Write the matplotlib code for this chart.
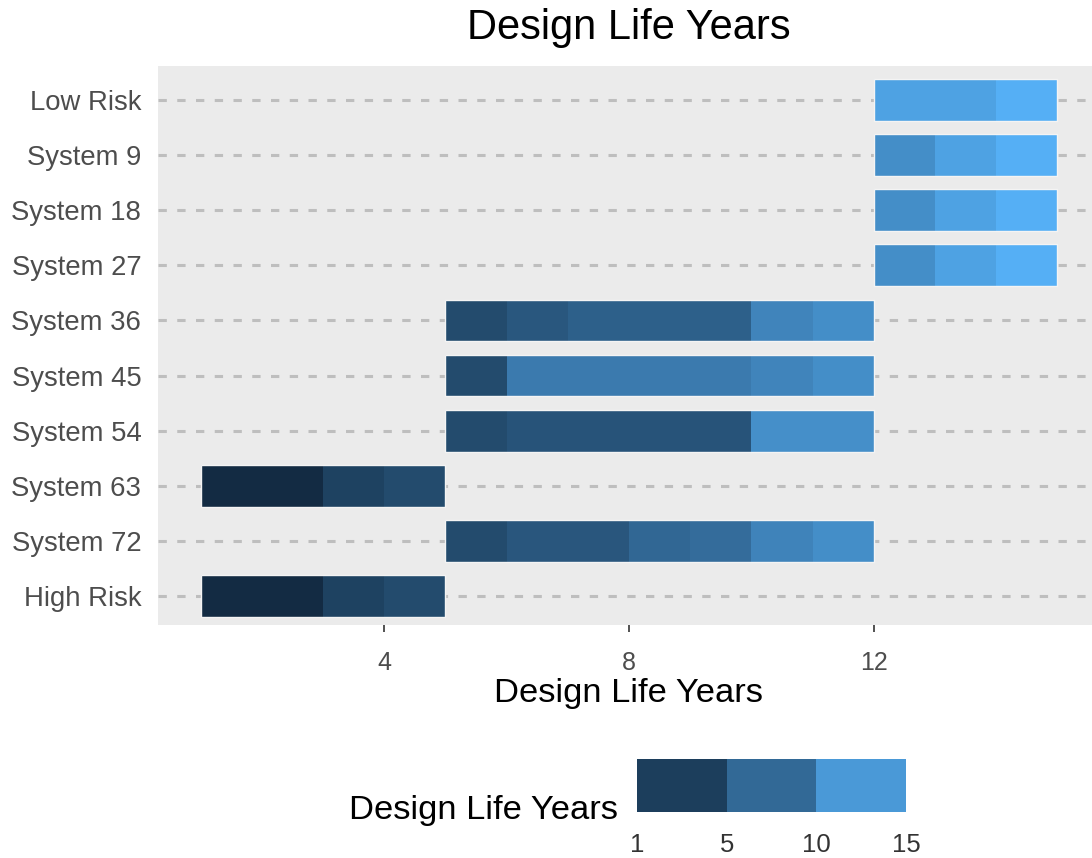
import numpy as np
import matplotlib
matplotlib.use("Agg")
import matplotlib.pyplot as plt
from matplotlib.colors import LinearSegmentedColormap, Normalize
from matplotlib.patches import Rectangle

plt.rcParams['font.family'] = ['Liberation Sans', 'DejaVu Sans']
plt.rcParams['lines.scale_dashes'] = False

# categories bottom -> top
categories = ["High Risk", "System 72", "System 63", "System 54", "System 45",
              "System 36", "System 27", "System 18", "System 9", "Low Risk"]
# first year of each bar, then one value per 1-year tile
bar_start = [1, 5, 1, 5, 5, 5, 12, 12, 12, 12]
tile_values = [
    [1, 1, 3.4, 4.3],
    [4.3, 5.5, 5.5, 7.3, 7.8, 10.2, 11.3],
    [1, 1, 3.4, 4.3],
    [4.3, 5.2, 5.2, 5.2, 5.2, 11.4, 11.4],
    [4.3, 9.3, 9.3, 9.3, 9.3, 10.3, 11.3],
    [4.3, 5.6, 6.5, 6.5, 6.5, 10.3, 11.3],
    [11.3, 13.4, 14.8],
    [11.3, 13.4, 14.8],
    [11.3, 13.4, 14.8],
    [13.4, 13.4, 14.8],
]
x_ticks = [4, 8, 12]
legend_breaks = [1, 5, 10, 15]

cmap = LinearSegmentedColormap.from_list("gg", ["#132B43", "#56B1F7"])
norm = Normalize(1, 15)

fig = plt.figure(figsize=(10.92, 8.58), dpi=100)
ax = fig.add_axes([158 / 1092, 1 - 625 / 858, (1100 - 158) / 1092, 559 / 858])
ax.set_facecolor("#ebebeb")
for s in ax.spines.values():
    s.set_visible(False)

bar_h = 0.76
for i, (start, vals) in enumerate(zip(bar_start, tile_values)):
    ax.plot([0.3, 15.7], [i, i], color="#bebebe", lw=2.2, dashes=(6, 7.5),
            solid_capstyle="butt", dash_capstyle="butt", zorder=1)
    for k, v in enumerate(vals):
        ax.add_patch(Rectangle((start + k, i - bar_h / 2), 1, bar_h,
                               facecolor=cmap(norm(v)), edgecolor="none", zorder=2))
    ax.add_patch(Rectangle((start, i - bar_h / 2), len(vals), bar_h,
                           facecolor="none", edgecolor="#f4f4f4", lw=1.0, zorder=3))

ax.set_xlim(0.3, 15.7)
ax.set_ylim(-0.53, 9.62)
ax.set_yticks(range(len(categories)))
ax.set_yticklabels(categories, fontsize=19.8, color="#4d4d4d")
ax.tick_params(axis="y", length=0, pad=12)
ax.set_xticks(x_ticks)
ax.set_xticklabels([str(t) for t in x_ticks], fontsize=18, color="#4d4d4d")
ax.tick_params(axis="x", length=5, width=1.2, color="#333333", pad=14)
ax.set_xlabel("Design Life Years", fontsize=24.8, labelpad=2)

fig.text(629 / 1092, 1 - 28 / 858, "Design Life Years", fontsize=30,
         ha="center", va="center")

# binned legend
lax = fig.add_axes([637 / 1092, 1 - 812 / 858, (906 - 637) / 1092, 53 / 858])
nb = len(legend_breaks) - 1
for j in range(nb):
    mid = (legend_breaks[j] + legend_breaks[j + 1]) / 2
    lax.add_patch(Rectangle((j, 0), 1, 1, facecolor=cmap(norm(mid)), edgecolor="none"))
lax.set_xlim(0, nb)
lax.set_ylim(0, 1)
lax.set_xticks(range(nb + 1))
lax.set_xticklabels([str(b) for b in legend_breaks], fontsize=18.5, color="#333333")
lax.tick_params(axis="x", length=0, pad=15)
lax.set_yticks([])
for s in lax.spines.values():
    s.set_visible(False)
fig.text(618 / 1092, 1 - 810 / 858, "Design Life Years", fontsize=24.8,
         ha="right", va="center")

fig.savefig("out.png", dpi=100)
